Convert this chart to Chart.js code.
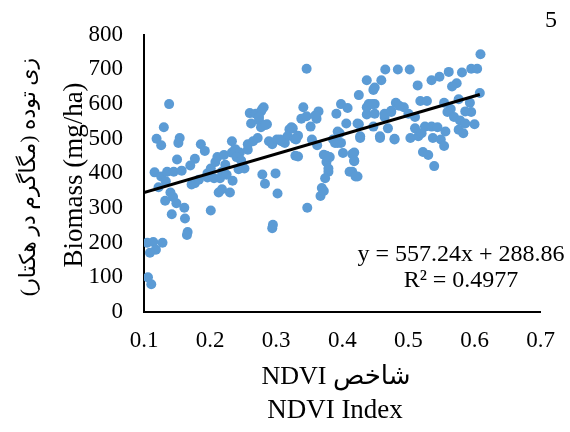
<!DOCTYPE html>
<html><head><meta charset="utf-8">
<script src="https://cdn.jsdelivr.net/npm/chart.js@4/dist/chart.umd.min.js"></script>
<style>html,body{margin:0;padding:0;background:#fff}#c{display:block}</style>
</head><body>
<canvas id="c" width="570" height="432"></canvas>
<script>
const ndvi = [0.105,0.114,0.128,0.118,0.109,0.106,0.111,
0.138,0.130,0.119,0.126,0.154,0.152,0.186,0.192,
0.150,0.177,0.170,0.116,0.126,0.135,0.145,0.157,
0.133,0.122,0.140,0.144,0.132,0.149,0.161,0.142,
0.162,0.166,0.165,0.201,0.172,0.177,0.183,0.196,
0.201,0.208,0.211,0.221,0.223,0.218,0.196,0.206,
0.215,0.225,0.213,0.218,0.230,0.234,0.233,0.233,
0.238,0.245,0.240,0.247,0.243,0.252,0.257,
0.260,0.262,0.269,0.277,0.281,0.274,0.286,0.277,
0.265,0.272,0.257,0.279,0.283,0.299,0.302,0.294,0.295,
0.289,0.294,0.301,0.308,0.317,0.320,0.325,0.313,
0.328,0.333,0.329,0.333,0.338,0.341,0.346,0.352,
0.364,0.361,0.346,0.347,0.354,0.362,0.372,0.376,
0.381,0.379,0.374,0.369,0.367,0.391,0.398,0.393,
0.398,0.389,
0.437,0.447,0.425,0.408,0.406,0.425,0.440,0.437,
0.427,0.401,0.415,0.418,0.415,0.423,0.359,
0.323,0.330,0.306,0.279,0.274,0.284,
0.609,0.595,0.604,0.581,0.561,0.465,0.484,0.502,
0.547,0.535,0.573,0.566,0.514,0.459,0.449,0.608,
0.449,0.481,0.518,0.528,0.554,0.576,0.593,0.595,
0.586,0.564,0.559,0.493,0.474,0.464,0.500,0.510,
0.569,0.578,0.586,0.600,0.447,0.469,0.510,0.525,
0.535,0.544,0.556,0.576,0.583,0.457,0.479,0.503,
0.515,0.537,0.549,0.554,0.522,0.530,0.539,0.520,
0.376,0.418,0.418,0.411,0.420,0.379,0.372,
0.386,0.393,0.396,0.423,0.427,0.457,0.479,0.437,0.445,0.449,0.464,0.474,0.486];
const biomass = [200,202,200,180,171,100,80,
600,533,500,481,502,488,484,465,
440,442,423,403,391,405,405,408,
377,360,345,332,321,314,301,282,
270,231,222,293,368,372,382,400,
414,433,447,453,425,405,388,386,
386,396,345,354,345,379,493,460,
470,460,447,437,412,414,468,
574,544,572,579,591,553,542,533,
493,502,484,397,370,400,342,242,252,
493,484,498,493,507,527,530,488,
500,509,451,449,558,591,565,535,
579,558,702,301,498,481,454,433,
447,405,386,358,335,572,600,521,
488,488,
669,641,626,589,544,542,600,570,
507,459,456,435,405,391,567,
533,498,498,586,563,540,
744,702,702,691,693,700,700,700,
679,669,660,651,654,669,648,632,
600,604,609,609,604,614,604,577,
579,586,577,591,577,563,572,563,
563,553,544,542,535,530,530,535,
535,533,521,526,516,507,500,502,
507,502,498,479,462,453,421,516,
451,460,437,405,391,414,349,
498,488,516,544,502,502,498,591,600,572,572,581,595];
const trendX = [0.1, 0.608];
const trendY = [344.6, 627.7];
const xTicks = [0.1,0.2,0.3,0.4,0.5,0.6,0.7];
const yTicks = [0,100,200,300,400,500,600,700,800];
const eqText = ['y = 557.24x + 288.86', 'R\u00b2 = 0.4977'];
const yTitle = ['\u0632\u06cc \u062a\u0648\u062f\u0647 (\u0645\u06af\u0627\u06af\u0631\u0645 \u062f\u0631 \u0647\u06a9\u062a\u0627\u0631)', 'Biomass (mg/ha)'];
const xTitle = ['\u0634\u0627\u062e\u0635 NDVI', 'NDVI Index'];
const panelLabel = '5';

const SERIF = '"Liberation Serif", "Times New Roman", "DejaVu Sans", serif';
const points = ndvi.map((x, i) => ({x, y: biomass[i]}));
const trend = trendX.map((x, i) => ({x, y: trendY[i]}));

const textPlugin = {
  id: 'texts',
  afterDraw(chart) {
    const ctx = chart.ctx;
    ctx.save();
    ctx.fillStyle = '#000';
    ctx.textBaseline = 'middle';
    ctx.textAlign = 'center';
    // x titles
    ctx.font = '26px ' + SERIF;
    ctx.direction = 'rtl';
    ctx.fillText(xTitle[0], 336, 377);
    ctx.direction = 'ltr';
    ctx.font = '27px ' + SERIF;
    ctx.fillText(xTitle[1], 335, 411);
    // y titles
    ctx.save();
    ctx.translate(29, 177);
    ctx.rotate(-Math.PI/2);
    ctx.direction = 'rtl';
    ctx.font = '22px ' + SERIF;
    ctx.fillText(yTitle[0], 0, 0);
    ctx.restore();
    ctx.save();
    ctx.translate(75, 175);
    ctx.rotate(-Math.PI/2);
    ctx.font = '27px ' + SERIF;
    ctx.fillText(yTitle[1], 0, 0);
    ctx.restore();
    // equation
    ctx.font = '24px ' + SERIF;
    ctx.fillText(eqText[0], 461, 255);
    ctx.fillText(eqText[1], 461, 281);
    // panel label
    ctx.fillText(panelLabel, 551, 21);
    ctx.restore();
  }
};

new Chart(document.getElementById('c'), {
  type: 'scatter',
  data: {
    datasets: [
      {data: points, backgroundColor: '#5B9BD5', borderColor: '#5B9BD5', pointRadius: 5, pointHoverRadius: 5, borderWidth: 0, order: 2},
      {type: 'line', data: trend, borderColor: '#000', borderWidth: 3, pointRadius: 0, fill: false, order: 1}
    ]
  },
  options: {
    responsive: false,
    animation: false,
    events: [],
    layout: {padding: {left: 0, right: 15, top: 25, bottom: 0}},
    plugins: {legend: {display: false}, tooltip: {enabled: false}},
    scales: {
      x: {
        type: 'linear', min: 0.1, max: 0.7,
        afterBuildTicks: s => { s.ticks = xTicks.map(v => ({value: v})); },
        afterFit: s => { s.height = 120; },
        grid: {display: false, drawTicks: false},
        border: {display: true, color: '#000', width: 2},
        ticks: {color: '#000', padding: 15, font: {family: SERIF, size: 23}, callback: v => String(v)}
      },
      y: {
        type: 'linear', min: 0, max: 800,
        afterBuildTicks: s => { s.ticks = yTicks.map(v => ({value: v})); },
        afterFit: s => { s.width = 144; },
        grid: {display: false, drawTicks: false},
        border: {display: true, color: '#000', width: 2},
        ticks: {color: '#000', padding: 21, font: {family: SERIF, size: 23}, callback: v => String(v)}
      }
    }
  },
  plugins: [textPlugin]
});
</script>
</body></html>
